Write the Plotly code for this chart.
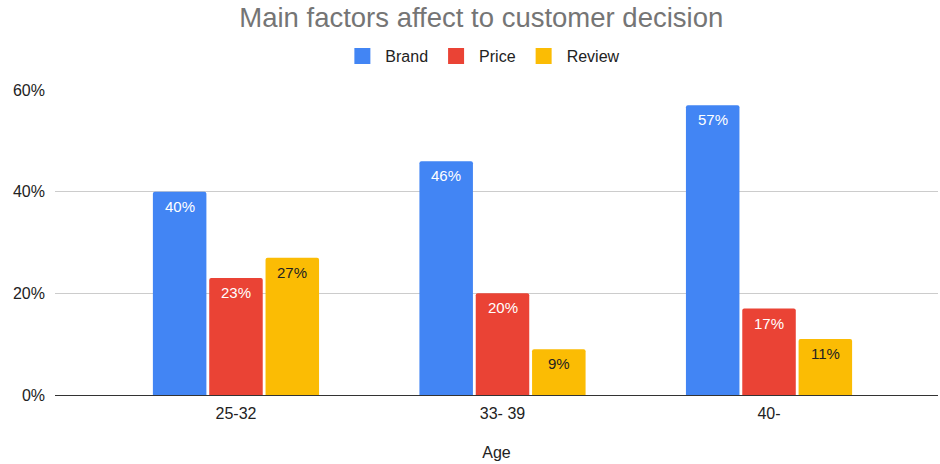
import plotly.graph_objects as go

# Survey results by age group
age_groups = ["25-32", "33- 39", "40-"]
brand = [0.40, 0.46, 0.57]
price = [0.23, 0.20, 0.17]
review = [0.27, 0.09, 0.11]

series = [
    ("Brand", brand, "#4285F4", "#FFFFFF"),
    ("Price", price, "#EA4335", "#FFFFFF"),
    ("Review", review, "#FBBC04", "#222222"),
]

FONT = "Arial, Liberation Sans, sans-serif"
X_RANGE = [-0.679, 2.634]
PLOT_W = 940 - 55 - 2
BARGAP = 0.366
px_per_unit = PLOT_W / (X_RANGE[1] - X_RANGE[0])
slot_px = (1 - BARGAP) / 3 * px_per_unit

fig = go.Figure()
annotations = []
for i, (name, vals, color, txtcolor) in enumerate(series):
    fig.add_trace(go.Bar(
        name=name,
        x=age_groups,
        y=vals,
        marker=dict(color=color, line=dict(width=0)),
        showlegend=False,
        hoverinfo="skip",
    ))
    # legend entry with a larger square swatch
    fig.add_trace(go.Scatter(
        name=name,
        x=[None], y=[None],
        mode="markers",
        marker=dict(symbol="square", size=16, color=color),
        showlegend=True,
        hoverinfo="skip",
    ))
    # value labels just inside the top of each bar
    for cat, v in zip(age_groups, vals):
        annotations.append(dict(
            x=cat, y=v, xref="x", yref="y",
            text=f"{v:.0%}",
            showarrow=False,
            xanchor="center", yanchor="top",
            xshift=(i - 1) * slot_px,
            yshift=-4,
            font=dict(family=FONT, size=15, color=txtcolor),
        ))

fig.update_layout(
    width=940,
    height=464,
    margin=dict(l=55, r=2, t=90, b=69),
    paper_bgcolor="white",
    plot_bgcolor="white",
    barmode="group",
    bargap=BARGAP,
    bargroupgap=0.05,
    barcornerradius=2,
    annotations=annotations,
    title=dict(
        text="Main factors affect to customer decision",
        x=0.512, xanchor="center",
        y=1 - 17 / 464, yanchor="middle",
        font=dict(family=FONT, size=27.5, color="#757575"),
    ),
    legend=dict(
        orientation="h",
        x=0.484, xanchor="center",
        y=1.111, yanchor="middle",
        font=dict(family=FONT, size=16, color="#222222"),
        itemwidth=36,
        traceorder="normal",
    ),
    xaxis=dict(
        range=X_RANGE,
        showgrid=False,
        showline=False,
        ticks="",
        ticklabelstandoff=7,
        tickfont=dict(family=FONT, size=16, color="#222222"),
        title=dict(text="Age", standoff=25,
                   font=dict(family=FONT, size=16, color="#222222")),
    ),
    yaxis=dict(
        range=[0, 0.6],
        tickvals=[0, 0.2, 0.4, 0.6],
        tickformat=".0%",
        showgrid=True,
        gridcolor="#CCCCCC",
        gridwidth=1,
        zeroline=True,
        zerolinecolor="#333333",
        zerolinewidth=1,
        ticks="",
        ticklabelstandoff=9,
        tickfont=dict(family=FONT, size=16, color="#222222"),
    ),
)

fig.write_html("out.html")
